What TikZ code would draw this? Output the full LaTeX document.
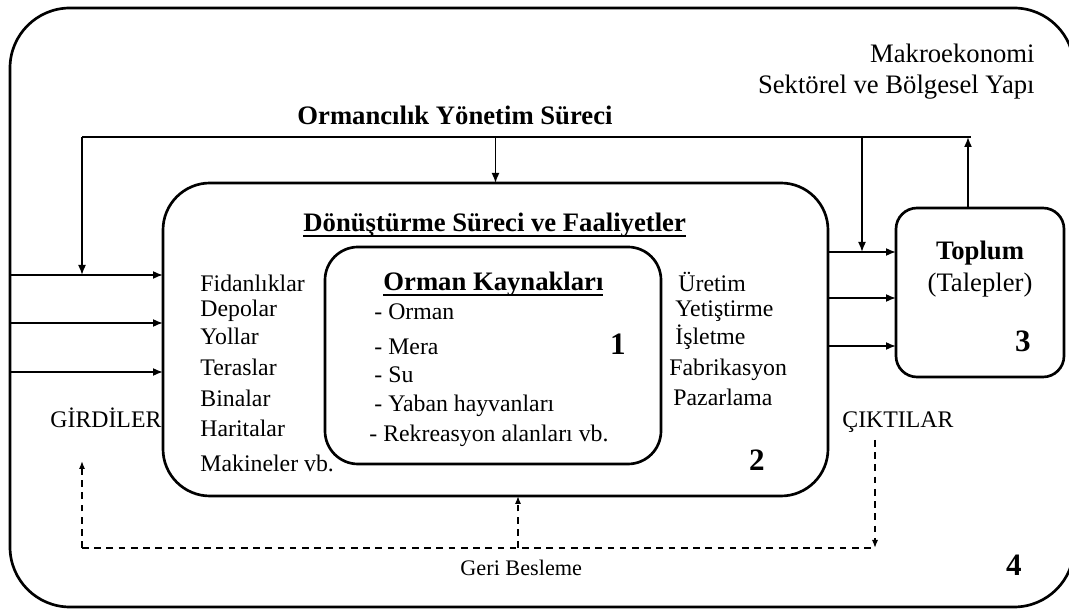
\documentclass[tikz,border=0pt]{standalone}
\usepackage{fontspec}
\setmainfont{Liberation Serif}
\usetikzlibrary{arrows.meta}
\newcommand{\birim}{0.45pt}
\newcommand{\cizgili}[1]{\setbox0=\hbox{#1}\rlap{\rule[-2.4pt]{\wd0}{1pt}}\box0}
\begin{document}
\begin{tikzpicture}[x=0.45pt, y=-0.45pt, >={Latex[length=4.5pt,width=3.6pt]},
    kutu/.style={draw, line width=1.2pt, inner sep=0, outer sep=0},
    yazi/.style={inner sep=0, anchor=base west, font=\fontsize{10.7}{12}\selectfont},
    baslik/.style={inner sep=0, anchor=base west, font=\fontsize{12}{14}\selectfont\bfseries},
    sayi/.style={inner sep=0, anchor=base, font=\fontsize{14}{16}\selectfont\bfseries},
    ok/.style={->, line width=0.75pt},
    geri/.style={line width=0.75pt, dash pattern=on 3pt off 2.5pt, >={Latex[length=3.6pt,width=2.8pt]}}]
    \useasboundingbox (0,0) rectangle (1069,610);
    \clip (0,0) rectangle (1069,610);
    \node[kutu, rounded corners=60*\birim, minimum width=1064*\birim, minimum height=599*\birim] (cevre) at (542,307.5) {};
    \node[kutu, rounded corners=47*\birim, minimum width=665*\birim, minimum height=313*\birim] (donusum) at (495.5,339.5) {};
    \node[kutu, rounded corners=33*\birim, minimum width=336*\birim, minimum height=217*\birim] (kaynak) at (493,355.5) {};
    \node[kutu, rounded corners=21*\birim, minimum width=168*\birim, minimum height=169*\birim] (toplum) at (980,292.5) {};

    \node[yazi, anchor=base east, font=\fontsize{12}{14}\selectfont] (makro1) at (1035,63) {Makroekonomi};
    \node[yazi, anchor=base east, font=\fontsize{12}{14}\selectfont] (makro2) at (1035,94) {Sektörel ve Bölgesel Yapı};
    \node[baslik] (yonetim) at (297,125) {Ormancılık Yönetim Süreci};
    \node[baslik] (donusumad) at (303,232) {\cizgili{Dönüştürme Süreci ve Faaliyetler}};
    \node[baslik] (kaynakad) at (383,291) {\cizgili{Orman Kaynakları}};
    \node[baslik, anchor=base] (toplumad) at (980,260) {Toplum};
    \node[yazi, anchor=base, font=\fontsize{12}{14}\selectfont] (talep) at (980,292) {(Talepler)};

    \foreach \x/\y/\ad [count=\i] in {200/292/Fidanlıklar, 200/317/Depolar, 200/345/Yollar,
        200/376/Teraslar, 200/407/Binalar, 200/437/Haritalar, 200/472/Makineler vb.}
        \node[yazi] (sol\i) at (\x,\y) {\ad};
    \foreach \x/\y/\ad [count=\i] in {374/320/- Orman, 374/355/- Mera, 374/383/- Su,
        374/412/- Yaban hayvanları, 369/442/- Rekreasyon alanları vb.}
        \node[yazi] (orta\i) at (\x,\y) {\ad};
    \foreach \x/\y/\ad [count=\i] in {678/292/Üretim, 675/317/Yetiştirme, 675/345/İşletme,
        669/376/Fabrikasyon, 673/406/Pazarlama}
        \node[yazi] (sag\i) at (\x,\y) {\ad};

    \node[yazi] (girdi) at (50,428) {GİRDİLER};
    \node[yazi] (cikti) at (842,428) {ÇIKTILAR};
    \node[yazi, font=\fontsize{10}{12}\selectfont] (geribes) at (460,575) {Geri Besleme};
    \node[sayi] (n1) at (618,355) {1};
    \node[sayi] (n2) at (757,471) {2};
    \node[sayi] (n3) at (1023,352) {3};
    \node[sayi] (n4) at (1014,575) {4};

    \coordinate (yon_sol) at (82,137);
    \coordinate (yon_sag) at (862,137);
    \coordinate (yon_uc) at (971,137);
    \coordinate (top_ok) at (968,137);
    \coordinate (g1) at (10,275);
    \coordinate (g2) at (10,323);
    \coordinate (g3) at (10,372);
    \coordinate (c1) at (862,252);
    \coordinate (c2) at (862,298);
    \coordinate (c3) at (862,346);
    \draw[line width=0.75pt] (yon_sol) -- (yon_uc);
    \draw[ok] (yon_sol) -- (yon_sol |- g1);
    \draw[ok] (donusum.north |- yon_sol) -- (donusum.north);
    \draw[ok] (yon_sag) -- (c1);
    \draw[ok] (toplum.north -| top_ok) -- (top_ok);
    \draw[ok] (g1) -- (g1 -| donusum.west);
    \draw[ok] (g2) -- (g2 -| donusum.west);
    \draw[ok] (g3) -- (g3 -| donusum.west);
    \draw[ok] (donusum.east |- c1) -- (toplum.west |- c1);
    \draw[ok] (donusum.east |- c2) -- (toplum.west |- c2);
    \draw[ok] (donusum.east |- c3) -- (toplum.west |- c3);

    \coordinate (gb_sol) at (82,548);
    \coordinate (gb_ust) at (82,461);
    \coordinate (gb_orta) at (518,548);
    \coordinate (gb_sag) at (875,548);
    \coordinate (gb_cikti) at (875,440);
    \draw[geri] (gb_sol) -- (gb_sag);
    \draw[geri, ->] (gb_sol) -- (gb_ust);
    \draw[geri, ->] (gb_orta) -- (gb_orta |- donusum.south);
    \draw[geri, ->] (gb_cikti) -- (gb_sag);
\end{tikzpicture}
\end{document}
